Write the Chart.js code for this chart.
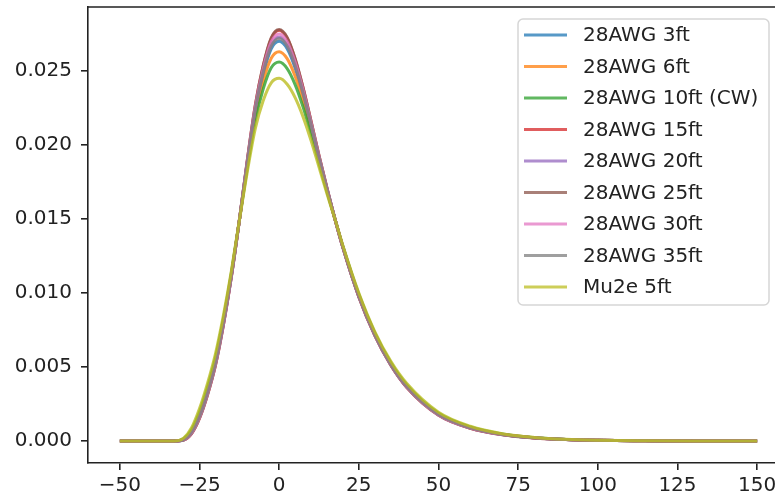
<!DOCTYPE html>
<html>
<head>
<meta charset="utf-8">
<title>Pulse shapes</title>
<script src="https://cdn.jsdelivr.net/npm/chart.js@4.4.0/dist/chart.umd.min.js"></script>
<style>
    html, body {
        margin: 0;
        padding: 0;
        background: #fff;
        overflow: hidden;
    }
    canvas {
        display: block;
    }
</style>
</head>
<body>
<canvas id="pulseChart" width="800" height="497"></canvas>
<script>
// sample positions (x)
const xValues = [-50, -40, -33, -30, -27.5, -25, -22.5, -20, -17.5, -15, -12.5, -10, -7.5, -5, -2.5, 0,
    2.5, 5, 7.5, 10, 12.5, 15, 17.5, 20, 25, 30, 35, 40, 50, 60, 70, 80, 90, 100, 115, 130, 150];

const awg3ft = [0, 0, 0, 0.0001, 0.0006, 0.0017, 0.0033, 0.0053, 0.008, 0.0112, 0.0149, 0.0188, 0.0223, 0.0248, 0.0265, 0.027,
    0.0265, 0.0252, 0.0234, 0.0213, 0.0191, 0.017, 0.015, 0.0131, 0.0098, 0.0072, 0.0052, 0.0037, 0.0018, 0.0009, 0.00045, 0.00022, 0.0001, 0.00005, 0.00002, 0, 0];
const awg6ft = [0, 0, 0, 0.00013, 0.00068, 0.00184, 0.00347, 0.00547, 0.00814, 0.01128, 0.0149, 0.01863, 0.02196, 0.0243, 0.02586, 0.0263,
    0.02583, 0.02464, 0.02298, 0.02102, 0.01893, 0.01692, 0.015, 0.01313, 0.00986, 0.00726, 0.00526, 0.00376, 0.00184, 0.00093, 0.00046, 0.00023, 0.0001, 0.00005, 0.00002, 0, 0];
const awg10ft = [0, 0, 0, 0.00016, 0.00077, 0.00198, 0.00364, 0.00564, 0.00828, 0.01137, 0.0149, 0.01846, 0.02163, 0.02379, 0.02521, 0.0256,
    0.02516, 0.02408, 0.02256, 0.02074, 0.01876, 0.01683, 0.015, 0.01316, 0.00991, 0.00731, 0.00531, 0.00381, 0.00188, 0.00096, 0.00048, 0.00024, 0.00011, 0.00005, 0.00002, 0, 0];
const awg15ft = [0, 0, 0, 0.00007, 0.00051, 0.00155, 0.00312, 0.00512, 0.00785, 0.01111, 0.0149, 0.01898, 0.02266, 0.02534, 0.02719, 0.02775,
    0.02722, 0.0258, 0.02385, 0.0216, 0.01928, 0.01709, 0.015, 0.01307, 0.00974, 0.00714, 0.00514, 0.00364, 0.00176, 0.00087, 0.00044, 0.00021, 0.0001, 0.00005, 0.00002, 0, 0];
const awg20ft = [0, 0, 0, 0.00009, 0.00056, 0.00164, 0.00323, 0.00523, 0.00794, 0.01116, 0.0149, 0.01887, 0.02244, 0.02502, 0.02678, 0.0273,
    0.02679, 0.02544, 0.02358, 0.02142, 0.01917, 0.01704, 0.015, 0.01309, 0.00978, 0.00718, 0.00518, 0.00368, 0.00178, 0.00089, 0.00045, 0.00022, 0.0001, 0.00005, 0.00002, 0, 0];
const awg25ft = [0, 0, 0, 0.00007, 0.0005, 0.00154, 0.00311, 0.00511, 0.00784, 0.0111, 0.0149, 0.01899, 0.02268, 0.02538, 0.02724, 0.0278,
    0.02727, 0.02584, 0.02388, 0.02162, 0.01929, 0.0171, 0.015, 0.01307, 0.00974, 0.00714, 0.00514, 0.00364, 0.00175, 0.00087, 0.00043, 0.00021, 0.0001, 0.00005, 0.00002, 0, 0];
const awg30ft = [0, 0, 0, 0.00008, 0.00054, 0.0016, 0.00318, 0.00518, 0.0079, 0.01114, 0.0149, 0.01892, 0.02254, 0.02516, 0.02696, 0.0275,
    0.02698, 0.0256, 0.0237, 0.0215, 0.01922, 0.01706, 0.015, 0.01308, 0.00976, 0.00716, 0.00516, 0.00366, 0.00177, 0.00088, 0.00044, 0.00022, 0.0001, 0.00005, 0.00002, 0, 0];
const awg35ft = [0, 0, 0, 0.00009, 0.00058, 0.00166, 0.00325, 0.00525, 0.00796, 0.01118, 0.0149, 0.01885, 0.0224, 0.02494, 0.02668, 0.0272,
    0.02669, 0.02536, 0.02352, 0.02138, 0.01915, 0.01702, 0.015, 0.01309, 0.00978, 0.00718, 0.00518, 0.00368, 0.00179, 0.00089, 0.00045, 0.00022, 0.0001, 0.00005, 0.00002, 0, 0];
const mu2e5ft = [0, 0, 0, 0.0002, 0.0009, 0.0022, 0.0039, 0.0059, 0.0085, 0.0115, 0.0149, 0.0182, 0.0211, 0.023, 0.0242, 0.0245,
    0.0241, 0.0232, 0.0219, 0.0203, 0.0185, 0.0167, 0.015, 0.0132, 0.01, 0.0074, 0.0054, 0.0039, 0.00195, 0.001, 0.0005, 0.00025, 0.00012, 0.00006, 0.00002, 0, 0];

const seriesNames = ["28AWG 3ft", "28AWG 6ft", "28AWG 10ft (CW)", "28AWG 15ft", "28AWG 20ft",
    "28AWG 25ft", "28AWG 30ft", "28AWG 35ft", "Mu2e 5ft"];
const seriesValues = [awg3ft, awg6ft, awg10ft, awg15ft, awg20ft, awg25ft, awg30ft, awg35ft, mu2e5ft];
const seriesColors = ["#1f77b4", "#ff7f0e", "#2ca02c", "#d62728", "#9467bd",
    "#8c564b", "#e377c2", "#7f7f7f", "#bcbd22"];

const xTicks = [-50, -25, 0, 25, 50, 75, 100, 125, 150];
const yTicks = [0, 0.005, 0.01, 0.015, 0.02, 0.025];

const FONT = "'DejaVu Sans', sans-serif";
const INK = "#222";

function fade(hex, a) {
    const n = parseInt(hex.slice(1), 16);
    return "rgba(" + (n >> 16) + "," + ((n >> 8) & 255) + "," + (n & 255) + "," + a + ")";
}

// top spine + matplotlib style legend in the upper right corner
const framePlugin = {
    id: "frame",
    afterDraw(chart) {
        const { ctx, chartArea } = chart;
        ctx.save();
        ctx.strokeStyle = INK;
        ctx.lineWidth = 1.6;
        ctx.beginPath();
        ctx.moveTo(chartArea.left, chartArea.top);
        ctx.lineTo(chartArea.right, chartArea.top);
        ctx.lineTo(chartArea.right, chartArea.bottom);
        ctx.stroke();

        const boxX = 518, boxY = 19, boxW = 251, boxH = 286, r = 5;
        ctx.fillStyle = "rgba(255,255,255,0.8)";
        ctx.strokeStyle = "#d6d6d6";
        ctx.lineWidth = 1.5;
        ctx.beginPath();
        ctx.roundRect(boxX, boxY, boxW, boxH, r);
        ctx.fill();
        ctx.stroke();

        ctx.font = "20px " + FONT;
        ctx.textBaseline = "middle";
        ctx.textAlign = "left";
        seriesNames.forEach((name, i) => {
            const y = 35 + i * 31.5;
            ctx.strokeStyle = fade(seriesColors[i], 0.75);
            ctx.lineWidth = 3;
            ctx.beginPath();
            ctx.moveTo(524, y);
            ctx.lineTo(567, y);
            ctx.stroke();
            ctx.fillStyle = INK;
            ctx.fillText(name, 583, y + 1);
        });
        ctx.restore();
    }
};

const datasets = seriesNames.map((name, i) => ({
    label: name,
    data: xValues.map((x, j) => ({ x: x, y: seriesValues[i][j] })),
    borderColor: fade(seriesColors[i], 0.8),
    borderWidth: 3,
    pointRadius: 0,
    fill: false,
    cubicInterpolationMode: "monotone",
    order: seriesNames.length - i
}));

new Chart(document.getElementById("pulseChart").getContext("2d"), {
    type: "line",
    data: { datasets: datasets },
    options: {
        responsive: false,
        animation: false,
        events: [],
        layout: { padding: { left: 0, top: 7, right: 11, bottom: 0 } },
        plugins: {
            legend: { display: false },
            tooltip: { enabled: false }
        },
        scales: {
            x: {
                type: "linear",
                min: -60,
                max: 160,
                afterFit: (scale) => {
                    scale.height = 34;
                    scale.paddingLeft = 0;
                    scale.paddingRight = 0;
                },
                afterBuildTicks: (scale) => { scale.ticks = xTicks.map((v) => ({ value: v })); },
                grid: { drawOnChartArea: false, color: INK, lineWidth: 1.6, tickLength: 7 },
                border: { display: true, color: INK, width: 1.6 },
                ticks: {
                    color: INK,
                    padding: 4,
                    maxRotation: 0,
                    font: { family: FONT, size: 20 },
                    callback: (v) => (v < 0 ? "\u2212" + Math.abs(v) : String(v))
                }
            },
            y: {
                type: "linear",
                min: -0.00148,
                max: 0.02932,
                afterFit: (scale) => {
                    scale.width = 88;
                    scale.paddingTop = 0;
                    scale.paddingBottom = 0;
                },
                afterBuildTicks: (scale) => { scale.ticks = yTicks.map((v) => ({ value: v })); },
                grid: { drawOnChartArea: false, color: INK, lineWidth: 1.6, tickLength: 7 },
                border: { display: true, color: INK, width: 1.6 },
                ticks: {
                    color: INK,
                    padding: 9,
                    font: { family: FONT, size: 20 },
                    callback: (v) => v.toFixed(3)
                }
            }
        }
    },
    plugins: [framePlugin]
});
</script>
</body>
</html>
